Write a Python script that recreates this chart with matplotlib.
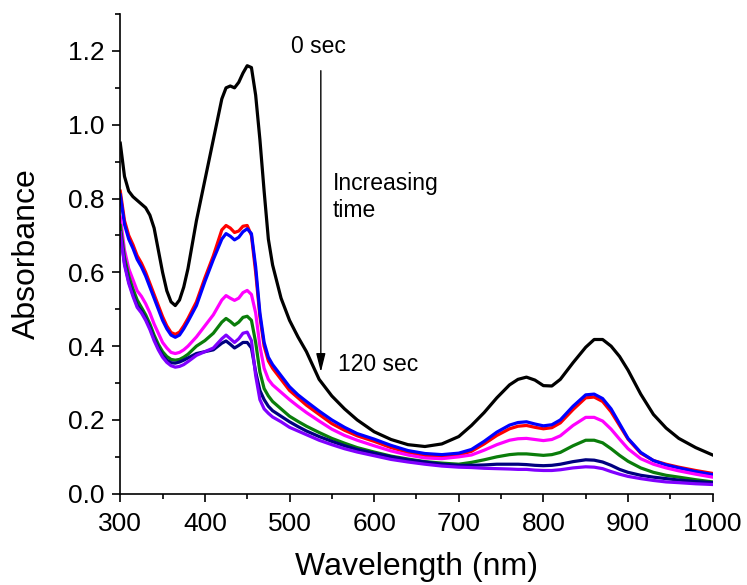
import matplotlib
matplotlib.use('Agg')
import matplotlib.pyplot as plt
from matplotlib.ticker import MultipleLocator, FormatStrFormatter

plt.rcParams['font.family'] = ['Liberation Sans', 'DejaVu Sans']

# wavelength grid (nm), shared by all spectra
wl = [300, 305, 310, 315, 320, 325, 330, 335, 340, 345, 350, 355, 360, 365, 370, 375, 380,
      390, 400, 410,
      420, 425, 430, 435, 440, 445, 450, 455, 460, 465, 470, 475, 480,
      490, 500, 510, 520, 535, 550, 565, 580, 600, 620, 640, 660, 680, 700,
      715, 730, 745, 760, 770, 780, 790, 800, 810, 820, 835, 850, 860, 870, 880, 890, 900,
      915, 930, 945, 960, 980, 1000]

# absorbance, one list per time point (0 sec -> 120 sec)
a_black = [0.95, 0.86, 0.82, 0.805, 0.795, 0.785, 0.775, 0.755, 0.72, 0.66, 0.60, 0.55, 0.52, 0.51, 0.525, 0.56, 0.61,
           0.74, 0.85, 0.96,
           1.07, 1.10, 1.105, 1.10, 1.115, 1.14, 1.16, 1.155, 1.08, 0.96, 0.82, 0.69, 0.62,
           0.53, 0.47, 0.425, 0.385, 0.31, 0.265, 0.23, 0.20, 0.168, 0.147, 0.133, 0.128, 0.135, 0.155,
           0.185, 0.22, 0.26, 0.295, 0.31, 0.316, 0.308, 0.293, 0.292, 0.31, 0.355, 0.397, 0.418, 0.418, 0.40, 0.372, 0.335,
           0.27, 0.215, 0.178, 0.15, 0.125, 0.105]
a_red = [0.82, 0.74, 0.70, 0.675, 0.645, 0.625, 0.60, 0.57, 0.54, 0.51, 0.48, 0.455, 0.437, 0.432, 0.438, 0.455, 0.475,
         0.52, 0.585, 0.645,
         0.715, 0.727, 0.72, 0.708, 0.712, 0.725, 0.727, 0.70, 0.60, 0.48, 0.40, 0.36, 0.34,
         0.31, 0.28, 0.26, 0.24, 0.215, 0.19, 0.172, 0.157, 0.142, 0.125, 0.112, 0.104, 0.101, 0.105,
         0.115, 0.135, 0.158, 0.176, 0.183, 0.185, 0.18, 0.176, 0.179, 0.192, 0.228, 0.26, 0.262, 0.25, 0.222, 0.185, 0.148,
         0.11, 0.09, 0.08, 0.072, 0.063, 0.055]
a_blue = [0.81, 0.73, 0.69, 0.665, 0.635, 0.615, 0.59, 0.56, 0.53, 0.50, 0.47, 0.447, 0.43, 0.424, 0.43, 0.447, 0.467,
          0.51, 0.575, 0.635,
          0.69, 0.705, 0.698, 0.688, 0.695, 0.71, 0.718, 0.705, 0.615, 0.49, 0.41, 0.37, 0.35,
          0.32, 0.29, 0.268, 0.25, 0.224, 0.20, 0.18, 0.163, 0.148, 0.131, 0.117, 0.109, 0.106, 0.11,
          0.12, 0.142, 0.167, 0.186, 0.193, 0.195, 0.189, 0.184, 0.187, 0.20, 0.237, 0.268, 0.27, 0.258, 0.23, 0.19, 0.15,
          0.112, 0.09, 0.078, 0.07, 0.06, 0.052]
a_magenta = [0.75, 0.66, 0.61, 0.58, 0.55, 0.535, 0.515, 0.49, 0.46, 0.435, 0.41, 0.395, 0.383, 0.38, 0.383, 0.39, 0.40,
             0.425, 0.455, 0.485,
             0.525, 0.537, 0.53, 0.524, 0.53, 0.545, 0.551, 0.54, 0.49, 0.40, 0.34, 0.31, 0.295,
             0.275, 0.255, 0.237, 0.22, 0.197, 0.175, 0.158, 0.145, 0.13, 0.116, 0.105, 0.097, 0.095, 0.10,
             0.105, 0.118, 0.133, 0.145, 0.149, 0.15, 0.147, 0.144, 0.147, 0.157, 0.185, 0.207, 0.207, 0.197, 0.175, 0.148, 0.122,
             0.095, 0.08, 0.07, 0.062, 0.053, 0.045]
a_green = [0.727, 0.64, 0.59, 0.555, 0.525, 0.505, 0.485, 0.46, 0.43, 0.405, 0.385, 0.372, 0.364, 0.362, 0.364, 0.37, 0.378,
           0.40, 0.415, 0.435,
           0.465, 0.475, 0.467, 0.457, 0.465, 0.478, 0.481, 0.47, 0.41, 0.33, 0.285, 0.265, 0.25,
           0.23, 0.21, 0.196, 0.183, 0.166, 0.15, 0.137, 0.125, 0.113, 0.102, 0.094, 0.087, 0.083, 0.08,
           0.085, 0.092, 0.10, 0.106, 0.108, 0.108, 0.106, 0.104, 0.106, 0.112, 0.13, 0.145, 0.145, 0.138, 0.122, 0.104, 0.088,
           0.07, 0.058, 0.05, 0.045, 0.038, 0.032]
a_navy = [0.71, 0.625, 0.575, 0.54, 0.51, 0.495, 0.475, 0.45, 0.42, 0.395, 0.375, 0.362, 0.355, 0.354, 0.357, 0.362, 0.368,
          0.38, 0.385, 0.39,
          0.408, 0.414, 0.405, 0.395, 0.402, 0.41, 0.41, 0.395, 0.33, 0.28, 0.255, 0.237, 0.225,
          0.21, 0.195, 0.182, 0.17, 0.155, 0.142, 0.13, 0.12, 0.11, 0.10, 0.092, 0.086, 0.08, 0.077,
          0.077, 0.078, 0.08, 0.08, 0.08, 0.079, 0.077, 0.076, 0.077, 0.08, 0.087, 0.092, 0.091, 0.086, 0.077, 0.066, 0.058,
          0.05, 0.045, 0.041, 0.037, 0.033, 0.03]
a_violet = [0.708, 0.62, 0.57, 0.535, 0.505, 0.49, 0.47, 0.445, 0.415, 0.39, 0.37, 0.356, 0.347, 0.343, 0.345, 0.35, 0.358,
            0.375, 0.385, 0.395,
            0.42, 0.43, 0.42, 0.41, 0.42, 0.435, 0.438, 0.415, 0.32, 0.255, 0.23, 0.218, 0.208,
            0.195, 0.18, 0.17, 0.16, 0.145, 0.133, 0.122, 0.113, 0.103, 0.093, 0.086, 0.08, 0.075, 0.072,
            0.071, 0.069, 0.068, 0.067, 0.066, 0.066, 0.064, 0.063, 0.063, 0.065, 0.07, 0.073, 0.072, 0.068, 0.06, 0.053, 0.047,
            0.041, 0.036, 0.032, 0.03, 0.027, 0.025]

spectra = [a_black, a_red, a_blue, a_magenta, a_green, a_navy, a_violet]
colors = ['black', '#ff0000', '#0000ff', '#ff00ff', '#0a7d0a', '#000080', '#8000ff']

fig = plt.figure(figsize=(7.47, 5.85), dpi=100)
ax = fig.add_axes([0.161, 0.156, 0.793, 0.82])

for a, c in zip(spectra, colors):
    ax.plot(wl, a, color=c, lw=2.3, solid_joinstyle='round')

ax.set_xlim(300, 1000)
ax.set_ylim(0, 1.3)
ax.xaxis.set_major_locator(MultipleLocator(100))
ax.xaxis.set_minor_locator(MultipleLocator(50))
ax.yaxis.set_major_locator(MultipleLocator(0.2))
ax.yaxis.set_minor_locator(MultipleLocator(0.1))
ax.yaxis.set_major_formatter(FormatStrFormatter('%.1f'))

for s in ['top', 'right']:
    ax.spines[s].set_visible(False)
for s in ['left', 'bottom']:
    ax.spines[s].set_linewidth(1.2)
ax.tick_params(which='major', direction='out', length=6, width=1.2, labelsize=19, pad=5)
ax.tick_params(which='minor', direction='out', length=3.5, width=1.2)
ax.tick_params(axis='x', which='major', pad=7)

ax.set_xlabel('Wavelength (nm)', fontsize=23, labelpad=12)
ax.set_ylabel('Absorbance', fontsize=23, labelpad=19)

# time arrow and annotations
ax.annotate('', xy=(537, 0.322), xytext=(537, 1.154),
            arrowprops=dict(arrowstyle='-|>,head_width=0.2,head_length=0.8',
                            color='black', lw=1, mutation_scale=14))
ax.text(502, 1.195, '0 sec', fontsize=16.5)
ax.text(551, 0.822, 'Increasing', fontsize=16.5)
ax.text(551, 0.749, 'time', fontsize=16.5)
ax.text(557, 0.332, '120 sec', fontsize=16.5)

plt.savefig('out.png', dpi=100)
